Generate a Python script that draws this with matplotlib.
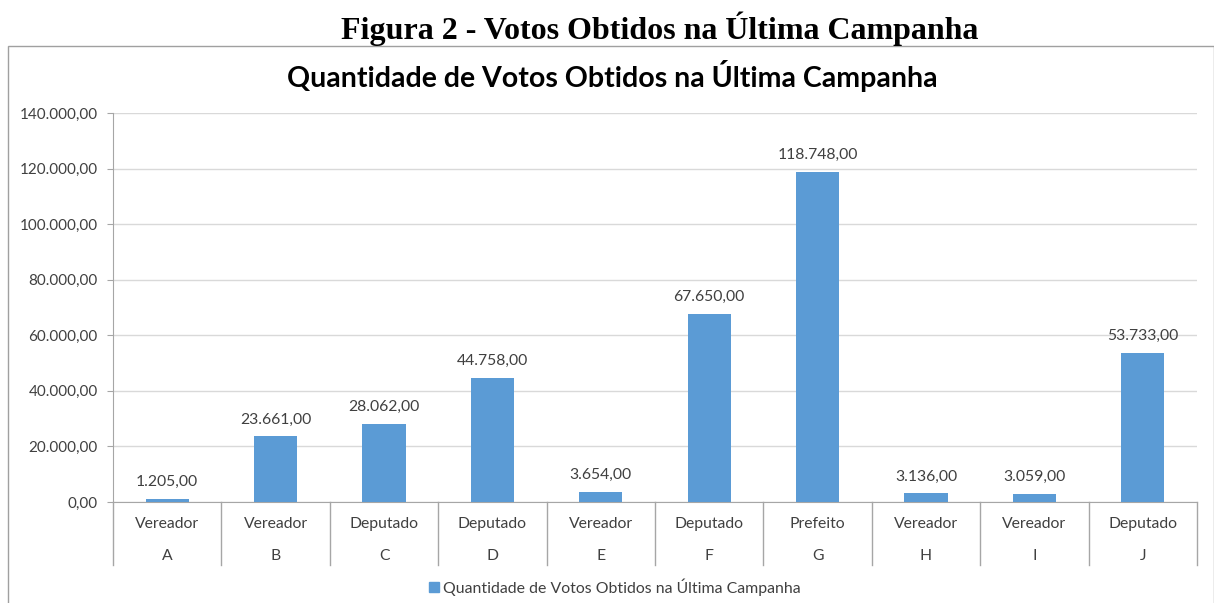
"""Bar chart: votos obtidos na última campanha (Figura 2)."""

import matplotlib
matplotlib.use("Agg")
import matplotlib.pyplot as plt
from matplotlib.patches import Rectangle
from matplotlib.transforms import blended_transform_factory

candidates = ["A", "B", "C", "D", "E", "F", "G", "H", "I", "J"]
roles = ["Vereador", "Vereador", "Deputado", "Deputado", "Vereador",
         "Deputado", "Prefeito", "Vereador", "Vereador", "Deputado"]
votes = [1205, 23661, 28062, 44758, 3654, 67650, 118748, 3136, 3059, 53733]
y_ticks = [0, 20000, 40000, 60000, 80000, 100000, 120000, 140000]

series_name = "Quantidade de Votos Obtidos na Última Campanha"
fig_title = "Figura 2 - Votos Obtidos na Última Campanha"

BAR = "#5b9bd5"
TEXT = "#404040"
GRID = "#d9d9d9"
AXIS = "#a6a6a6"

plt.rcParams["font.family"] = ["Lato", "DejaVu Sans"]


def br(v):
    """Format a number the Brazilian way: 1.205,00"""
    s = f"{v:,.2f}"
    return s.replace(",", "X").replace(".", ",").replace("X", ".")


W, H = 1214, 603
fig = plt.figure(figsize=(W / 100, H / 100), dpi=100)
ax = fig.add_axes([113 / W, 1 - 502 / H, (1197 - 113) / W, (502 - 113) / H])

x = list(range(len(candidates)))
ax.bar(x, votes, width=0.4, color=BAR, zorder=3)
for xi, v in zip(x, votes):
    ax.annotate(br(v), (xi, v), xytext=(0, 7), textcoords="offset points",
                ha="center", va="bottom", fontsize=11.3, color=TEXT)

ax.set_xlim(-0.5, len(candidates) - 0.5)
ax.set_ylim(0, 140000)
ax.set_yticks(y_ticks)
ax.set_yticklabels([br(t) for t in y_ticks])
ax.tick_params(axis="y", length=4, color=AXIS, labelsize=11, labelcolor=TEXT, pad=7)
ax.set_xticks([])
ax.grid(axis="y", color=GRID, lw=1, zorder=0)
for side in ["top", "right"]:
    ax.spines[side].set_visible(False)
ax.spines["left"].set_color(AXIS)
ax.spines["bottom"].set_color(AXIS)

# two-level category axis
trans = blended_transform_factory(ax.transData, ax.transAxes)
for b in [i - 0.5 for i in range(len(candidates) + 1)]:
    ax.plot([b, b], [0, -0.162], transform=trans, color=AXIS, lw=1, clip_on=False)
for xi, role, name in zip(x, roles, candidates):
    ax.text(xi, -0.056, role, transform=trans, ha="center", va="center",
            fontsize=11.3, color=TEXT)
    ax.text(xi, -0.139, name, transform=trans, ha="center", va="center",
            fontsize=11.3, color=TEXT)

# chart titles
fig.text(660 / W, 1 - 29 / H, fig_title, ha="center", va="center",
         fontsize=23, fontweight="bold", family="Liberation Serif")
fig.text(612 / W, 1 - 76 / H, series_name, ha="center", va="center",
         fontsize=20.5, fontweight="bold", color="black")

# legend
fig.legend([Rectangle((0, 0), 1, 1, color=BAR)], [series_name],
           loc="center", bbox_to_anchor=(615 / W, 1 - 587 / H), frameon=False,
           fontsize=11.4, handlelength=0.6, handleheight=0.6, handletextpad=0.3,
           labelcolor=TEXT)

# chart area border
fig.patches.append(Rectangle((8 / W, -0.01), (W - 8.5) / W, 0.01 + (1 - 46 / H),
                             transform=fig.transFigure, fill=False,
                             edgecolor="#a0a0a0", lw=1))

fig.savefig("out.png", dpi=100)
